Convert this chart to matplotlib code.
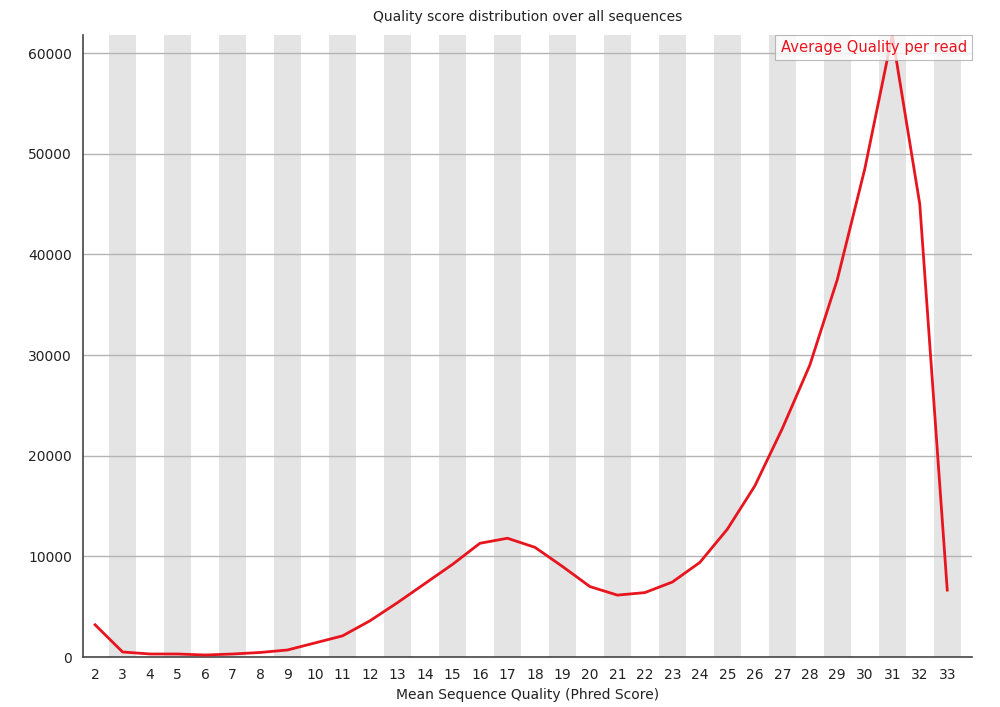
import numpy as np
import matplotlib
matplotlib.use("Agg")
from matplotlib import pyplot as plt

# mean phred score per read and number of reads with that score
quality = list(range(2, 34))
read_counts = [3200, 500, 300, 300, 200, 300, 450, 700, 1400, 2100,
               3600, 5400, 7300, 9200, 11300, 11800, 10900, 9000, 7000, 6150,
               6400, 7450, 9400, 12700, 17000, 22700, 29000, 37500, 48500, 61800,
               45000, 6650]
y_ticks = [0, 10000, 20000, 30000, 40000, 50000, 60000]

fig = plt.figure(figsize=(10, 7.07), dpi=100)
ax = fig.add_axes([0.083, 0.0707, 0.889, 0.8798])

ymax = max(read_counts)
# alternating grey bands behind every other score
for q in quality:
    if q % 2 == 1:
        ax.axvspan(q - 0.5, q + 0.5, color="#e4e4e4", lw=0, zorder=0)

for t in y_ticks[1:]:
    ax.axhline(t, color="#b4b4b4", lw=1, zorder=1)

ax.plot(quality, read_counts, color="#e8141e", lw=2, zorder=3,
        label="Average Quality per read")

ax.set_xlim(1.56, 33.9)
ax.set_ylim(0, ymax)
ax.set_xticks(quality)
ax.set_yticks(y_ticks)
ax.tick_params(length=0, labelsize=10, colors="#222222", pad=8)
for s in ["top", "right"]:
    ax.spines[s].set_visible(False)
for s in ["left", "bottom"]:
    ax.spines[s].set_color("#444444")
    ax.spines[s].set_linewidth(1.2)

ax.set_title("Quality score distribution over all sequences", fontsize=10,
             color="#222222", pad=10)
ax.set_xlabel("Mean Sequence Quality (Phred Score)", fontsize=10,
              color="#222222", labelpad=4)

leg = ax.legend(loc="upper right", handlelength=0, handletextpad=0,
                fontsize=10.6, frameon=True, fancybox=False,
                borderpad=0.35, borderaxespad=0, bbox_to_anchor=(1.0, 1.0))
leg.get_frame().set_edgecolor("#aaaaaa")
leg.get_frame().set_linewidth(0.8)
for txt in leg.get_texts():
    txt.set_color("#e8141e")
for h in leg.legend_handles:
    h.set_visible(False)

fig.savefig("out.png", dpi=100, facecolor="white")
